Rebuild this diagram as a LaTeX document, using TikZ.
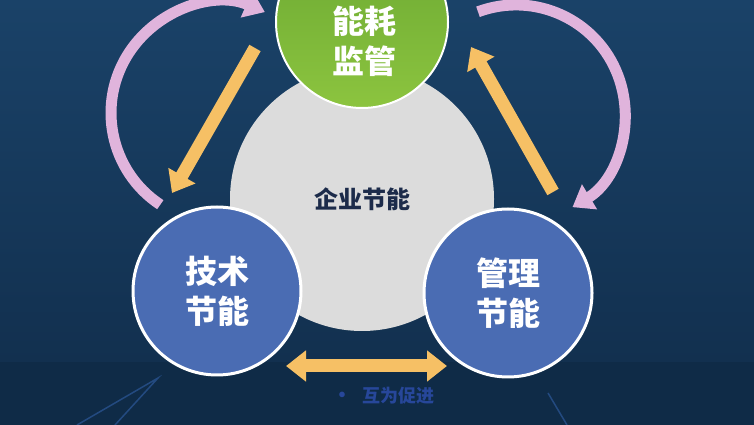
\documentclass[tikz,border=0pt]{standalone}
\usepackage{xcolor}
\definecolor{c1a4268}{HTML}{1A4268}
\definecolor{c12304f}{HTML}{12304F}
\definecolor{c0f2b47}{HTML}{0F2B47}
\definecolor{cdcdcdc}{HTML}{DCDCDC}
\definecolor{c1c2b4a}{HTML}{1C2B4A}
\definecolor{c6aa832}{HTML}{6AA832}
\definecolor{c8cc43f}{HTML}{8CC43F}
\definecolor{c4a6cb3}{HTML}{4A6CB3}
\definecolor{cf6c065}{HTML}{F6C065}
\definecolor{ce0b4dc}{HTML}{E0B4DC}
\definecolor{c2a4c9c}{HTML}{27479A}
\definecolor{c2a5a9a}{HTML}{234A80}
\usepackage{tikz}
\usetikzlibrary{arrows.meta}
\usepackage{fontspec}
\newfontfamily\cjk{Noto Sans CJK SC}

\tikzset{
  orangearrow/.style={draw=cf6c065, line width=13, -{Triangle[width=30pt,length=20pt]}},
  pinkarrow/.style={draw=ce0b4dc, line width=11, -{Triangle[width=28pt,length=20pt]}},
  bluecircle/.style={circle, draw=white, line width=3, fill=c4a6cb3, minimum size=168,
    inner sep=0, text=white, align=center, font=\cjk\bfseries\fontsize{32}{40}\selectfont},
}

\begin{document}
\begin{tikzpicture}[x=1pt, y=1pt]
  \useasboundingbox (0,0) rectangle (754,425);
  \shade[top color=c1a4268, bottom color=c12304f] (0,63) rectangle (754,425);
  \fill[c0f2b47] (0,0) rectangle (754,63);

  % faint floor lines
  \coordinate (f0) at (158,47);
  \coordinate (f1) at (77,0);
  \coordinate (f2) at (115,0);
  \coordinate (f3) at (548,32);
  \coordinate (f4) at (567,0);
  \draw[c2a5a9a, line width=1.5] (f1) -- (f0) -- (f2);
  \draw[c2a5a9a, line width=1.5] (f3) -- (f4);

  % pink arcs
  \coordinate (p1) at (160.3,220.3);
  \coordinate (p2) at (478,413.2);
  \draw[pinkarrow] (p1) arc[start angle=236.5, end angle=66.5, radius=110pt];
  \draw[pinkarrow] (p2) arc[start angle=110.4, end angle=-58.8, radius=109pt];

  % orange arrows
  \coordinate (l1) at (255,377);
  \coordinate (l2) at (172,232);
  \coordinate (r1) at (553,233);
  \coordinate (r2) at (471,378);
  \coordinate (b1) at (286,59);
  \coordinate (b2) at (447,59);
  \draw[orangearrow] (l1) -- (l2);
  \draw[orangearrow] (r1) -- (r2);
  \draw[orangearrow, {Triangle[width=30pt,length=20pt]}-{Triangle[width=30pt,length=20pt]}] (b1) -- (b2);

  \node (qiye) at (362,226) [circle, fill=cdcdcdc, minimum size=264, inner sep=0,
    text=c1c2b4a, font=\cjk\bfseries\fontsize{24}{28}\selectfont] {企业节能};
  \node (jianguan) at (362,403) [circle, draw=white, line width=2, top color=c6aa832,
    bottom color=c8cc43f, minimum size=172, inner sep=0] {};
  \node (jianguan-text) at (364,384) [align=center, text=white,
    font=\cjk\bfseries\fontsize{32}{40}\selectfont] {能耗\\监管};
  \node (jishu) at (217,134) [bluecircle] {技术\\节能};
  \node (guanli) at (508,132) [bluecircle] {管理\\节能};

  \node (cujin) at (383,29) [text=c2a4c9c, font=\cjk\bfseries\fontsize{18}{20}\selectfont]
    {{\fontsize{20}{20}\selectfont •}\hspace{10pt}互为促进};
\end{tikzpicture}
\end{document}
